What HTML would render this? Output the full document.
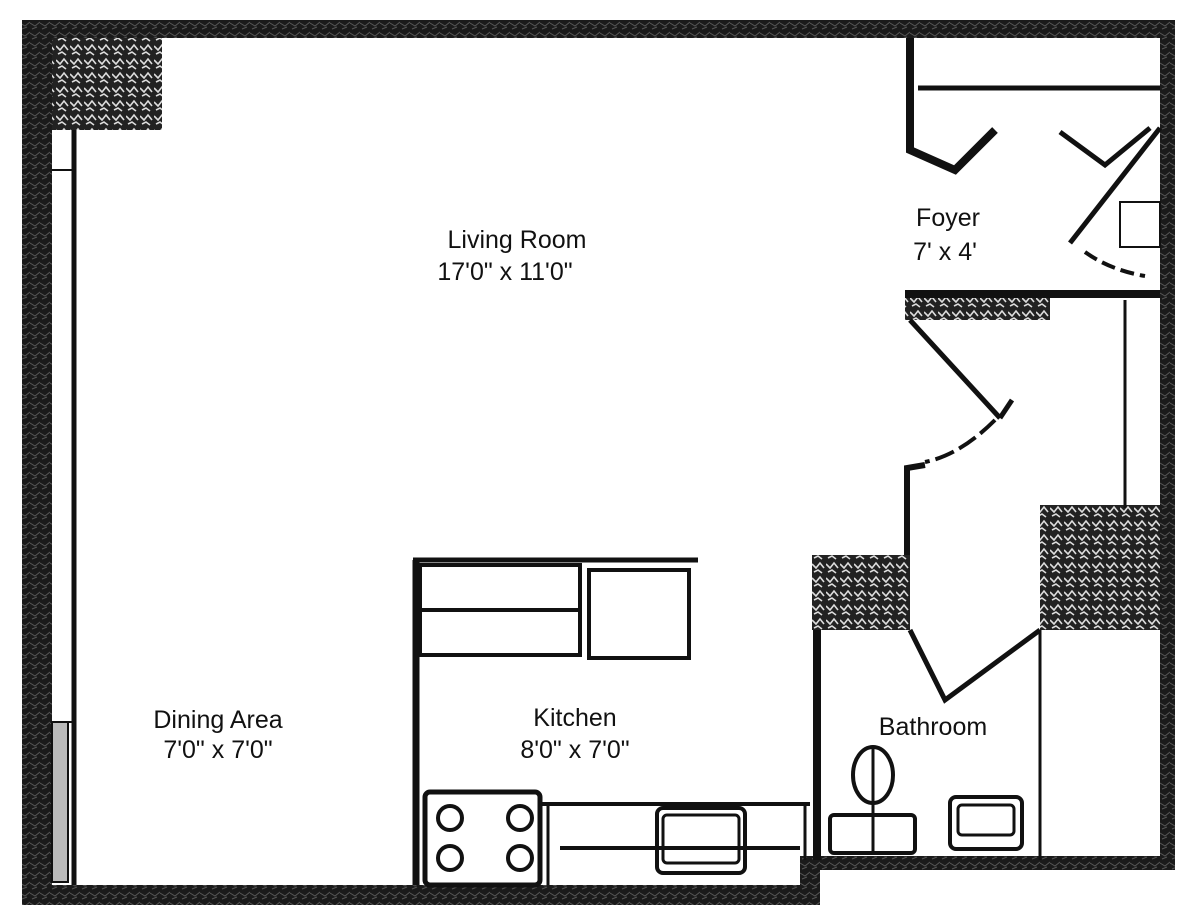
<!DOCTYPE html>
<html><head><meta charset="utf-8"><style>
html,body{margin:0;padding:0;background:#fff}
svg{display:block}
text{font-family:"Liberation Sans",sans-serif;font-size:25px;fill:#111;text-anchor:middle}
</style></head><body>
<svg width="1200" height="920" viewBox="0 0 1200 920" xmlns="http://www.w3.org/2000/svg">
<defs>
<pattern id="h" width="14" height="14" patternUnits="userSpaceOnUse">
<rect width="14" height="14" fill="#222"/>
<path d="M0 4 L4 8 L8 3 L12 8 M2 12 L6 10 L10 13" stroke="#ddd" stroke-width="1.6" fill="none"/>
</pattern>
<pattern id="w" width="10" height="10" patternUnits="userSpaceOnUse">
<rect width="10" height="10" fill="#1a1a1a"/>
<path d="M0 3 L5 6 L10 2 M2 9 L7 7" stroke="#555" stroke-width="1" fill="none"/>
</pattern>
</defs>
<g fill="url(#w)">
<rect x="22" y="20" width="1153" height="18"/>
<rect x="22" y="20" width="30" height="885"/>
<rect x="22" y="885" width="798" height="20"/>
<rect x="1160" y="20" width="15" height="850"/>
<rect x="800" y="856" width="375" height="14"/>
<rect x="800" y="856" width="20" height="49"/>
</g>
<rect x="52" y="38" width="110" height="92" fill="url(#h)"/>
<rect x="905" y="292" width="145" height="28" fill="url(#h)"/>
<rect x="812" y="555" width="98" height="75" fill="url(#h)"/>
<rect x="1040" y="505" width="120" height="125" fill="url(#h)"/>
<g stroke="#111" fill="none" stroke-width="5">
<line x1="74" y1="130" x2="74" y2="885"/>
<line x1="52" y1="170" x2="74" y2="170" stroke-width="2"/>
<line x1="52" y1="722" x2="74" y2="722" stroke-width="2"/>
<rect x="52" y="722" width="16" height="160" fill="#bbb" stroke-width="2"/>
<polyline points="910,38 910,150 955,170 995,130" stroke-width="8"/>
<line x1="918" y1="88" x2="1160" y2="88" stroke-width="5"/>
<polyline points="1060,132 1105,165 1150,128"/>
<line x1="1070" y1="243" x2="1160" y2="128"/>
<rect x="1120" y="202" width="40" height="45" stroke-width="2"/>
<path d="M1085 252 Q1110 270 1145 276" stroke-width="4" stroke-dasharray="14 6"/>
<line x1="905" y1="294" x2="1160" y2="294" stroke-width="8"/>
<line x1="1125" y1="300" x2="1125" y2="508" stroke-width="3"/>
<polyline points="910,320 1000,418"/>
<line x1="1000" y1="418" x2="1012" y2="400"/>
<path d="M995 420 Q960 455 925 462" stroke-width="4" stroke-dasharray="20 6"/>
<polyline points="925,465 907,468 907,555" stroke-width="6"/>
<line x1="817" y1="630" x2="817" y2="860" stroke-width="8"/>
<polyline points="910,630 945,700 1040,630"/>
<line x1="1040" y1="630" x2="1040" y2="860" stroke-width="3"/>
<ellipse cx="873" cy="775" rx="20" ry="28" stroke-width="4"/>
<line x1="873" y1="747" x2="873" y2="852" stroke-width="3"/>
<rect x="830" y="815" width="85" height="38" rx="4" stroke-width="4"/>
<rect x="950" y="797" width="72" height="52" rx="6" stroke-width="4"/>
<rect x="958" y="805" width="56" height="30" rx="4" stroke-width="3"/>
<line x1="413" y1="560" x2="698" y2="560" stroke-width="5"/>
<line x1="416" y1="560" x2="416" y2="885" stroke-width="7"/>
<rect x="420" y="565" width="160" height="90" stroke-width="4"/>
<line x1="420" y1="610" x2="580" y2="610" stroke-width="4"/>
<rect x="589" y="570" width="100" height="88" stroke-width="4"/>
<rect x="425" y="792" width="115" height="93" rx="5" stroke-width="5"/>
<line x1="540" y1="804" x2="810" y2="804" stroke-width="4"/>
<line x1="548" y1="804" x2="548" y2="885" stroke-width="3"/>
<line x1="560" y1="848" x2="800" y2="848" stroke-width="4"/>
<line x1="805" y1="804" x2="805" y2="860" stroke-width="3"/>
<rect x="657" y="808" width="88" height="65" rx="6" stroke-width="4"/>
<rect x="663" y="815" width="76" height="48" rx="4" stroke-width="3"/>
</g>
<g fill="none" stroke="#111" stroke-width="4">
<circle cx="450" cy="818" r="12"/><circle cx="520" cy="818" r="12"/>
<circle cx="450" cy="858" r="12"/><circle cx="520" cy="858" r="12"/>
</g>
<text x="517" y="248">Living Room</text>
<text x="505" y="280">17'0" x 11'0"</text>
<text x="948" y="226">Foyer</text>
<text x="945" y="260">7' x 4'</text>
<text x="218" y="728">Dining Area</text>
<text x="218" y="758">7'0" x 7'0"</text>
<text x="575" y="726">Kitchen</text>
<text x="575" y="758">8'0" x 7'0"</text>
<text x="933" y="735">Bathroom</text>
</svg>
</body></html>
